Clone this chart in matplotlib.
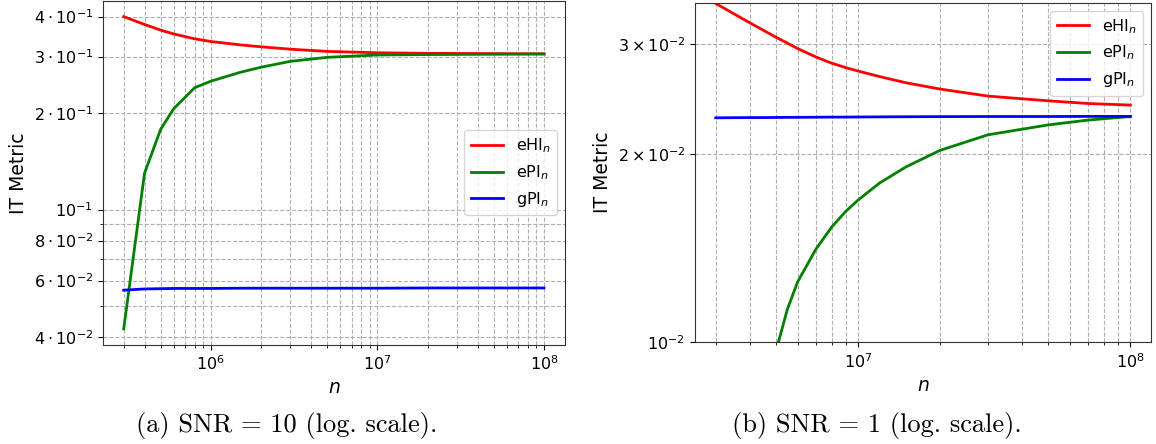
import matplotlib
matplotlib.use("Agg")
import matplotlib.pyplot as plt
from matplotlib.ticker import FixedLocator, FixedFormatter, NullFormatter

# ---------------- data: (a) SNR = 10 ----------------
n_a = [3e5, 4e5, 5e5, 6e5, 8e5, 1e6, 1.5e6, 2e6, 3e6, 5e6, 1e7, 2e7, 5e7, 1e8]
ehi_a = [0.400, 0.378, 0.363, 0.353, 0.341, 0.3345, 0.3265, 0.3220, 0.3165, 0.3115,
         0.3085, 0.3072, 0.3066, 0.3062]
epi_a = [0.0424, 0.1298, 0.178, 0.2066, 0.240, 0.2515, 0.268, 0.278, 0.2900, 0.2985,
         0.3036, 0.3045, 0.3052, 0.3057]
gpi_a = [0.0560, 0.0565, 0.0566, 0.0567, 0.0567, 0.0567, 0.0568, 0.0568, 0.0568, 0.0568,
         0.0568, 0.0569, 0.0569, 0.0569]

# ---------------- data: (b) SNR = 1 ----------------
n_b = [3e6, 4e6, 4.5e6, 5e6, 5.5e6, 6e6, 7e6, 8e6, 9e6, 1e7, 1.2e7, 1.5e7, 2e7, 3e7,
       5e7, 7e7, 1e8]
ehi_b = [0.0349, 0.0325, 0.0316, 0.0308, 0.03015, 0.02955, 0.02865, 0.0280, 0.02755,
         0.0272, 0.02665, 0.02605, 0.02545, 0.0248, 0.02437, 0.02413, 0.02399]
epi_b = [0.0010, 0.0048, 0.0075, 0.0097, 0.0113, 0.0125, 0.0141, 0.0153, 0.0162,
         0.0169, 0.0180, 0.0191, 0.0203, 0.0215, 0.0223, 0.0227, 0.0230]
gpi_b = [0.02289, 0.02291, 0.02291, 0.02292, 0.02293, 0.02293, 0.02294, 0.02295, 0.02295,
         0.02296, 0.02297, 0.02298, 0.02299, 0.02300, 0.02300, 0.02301, 0.02301]

labels = [r"eHI$_n$", r"ePI$_n$", r"gPI$_n$"]
colors = ["red", "green", "blue"]

# tick labels
yt_a_major = [0.04, 0.06, 0.08, 0.1, 0.2, 0.3, 0.4]
yt_a_labels = [r"$4\cdot10^{-2}$", r"$6\cdot10^{-2}$", r"$8\cdot10^{-2}$", r"$10^{-1}$",
               r"$2\cdot10^{-1}$", r"$3\cdot10^{-1}$", r"$4\cdot10^{-1}$"]
yt_a_minor = [0.05, 0.07, 0.09]
yt_b_major = [0.01, 0.02, 0.03]
yt_b_labels = [r"$10^{-2}$", r"$2\times10^{-2}$", r"$3\times10^{-2}$"]

captions = ["(a) SNR = 10 (log. scale).", "(b) SNR = 1 (log. scale)."]

W, H = 1156, 444
fig = plt.figure(figsize=(W / 100, H / 100), dpi=100)

ax1 = fig.add_axes([102.7 / W, (H - 344.5) / H, 462.3 / W, 343.5 / H])
ax2 = fig.add_axes([695 / W, (H - 342.3) / H, 456 / W, 339.6 / H])

TICK = 11.5
LAB = 13.5
LW = 2.0

for ax, n, series in [(ax1, n_a, (ehi_a, epi_a, gpi_a)), (ax2, n_b, (ehi_b, epi_b, gpi_b))]:
    for ys, lab, c in zip(series, labels, colors):
        ax.plot(n, ys, color=c, lw=LW, label=lab)
    ax.set_xscale("log")
    ax.set_yscale("log")
    ax.set_xlabel(r"$n$", fontsize=LAB)
    ax.set_ylabel("IT Metric", fontsize=LAB)
    ax.tick_params(labelsize=TICK)
    ax.grid(True, which="both", linestyle="--", color="#b0b0b0", linewidth=0.8)
    for s in ax.spines.values():
        s.set_color("#333333")

# left panel y ticks
ax1.set_xlim(10 ** 5.351, 10 ** 8.126)
ax1.yaxis.set_major_locator(FixedLocator(yt_a_major))
ax1.yaxis.set_major_formatter(FixedFormatter(yt_a_labels))
ax1.yaxis.set_minor_locator(FixedLocator(yt_a_minor))
ax1.yaxis.set_minor_formatter(NullFormatter())
ax1.legend(loc="center right", fontsize=TICK)

# right panel
ax2.set_xlim(10 ** 6.401, 10 ** 8.076)
ax2.set_ylim(0.01, 0.035)
ax2.yaxis.set_major_locator(FixedLocator(yt_b_major))
ax2.yaxis.set_major_formatter(FixedFormatter(yt_b_labels))
ax2.yaxis.set_minor_locator(FixedLocator([]))
ax2.yaxis.set_minor_formatter(NullFormatter())
ax2.legend(loc="upper right", fontsize=TICK)

fig.text(286.5 / W, (H - 425) / H, captions[0], fontfamily="cmr10", fontsize=19,
         ha="center", va="center")
fig.text(877 / W, (H - 425) / H, captions[1], fontfamily="cmr10", fontsize=19,
         ha="center", va="center")

fig.savefig("out.png", dpi=100)
